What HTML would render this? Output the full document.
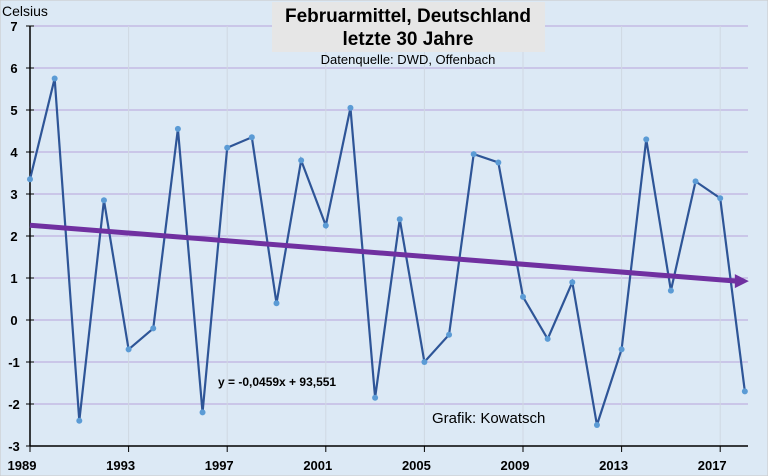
<!DOCTYPE html>
<html><head><meta charset="utf-8"><style>
body{margin:0;background:#dce9f5;}
svg{display:block;font-family:"Liberation Sans",sans-serif;}
</style></head><body>
<svg width="768" height="476">
<rect x="0" y="0" width="768" height="476" fill="#dce9f5" stroke="#c8c8c8"/>
<g id="grid"></g>
<g id="axes"></g>
<g id="series"></g>
<rect x="272" y="2" width="273" height="50" fill="#e6e6e6"/>
<text x="408" y="22" text-anchor="middle" font-size="19" font-weight="bold">Februarmittel, Deutschland</text>
<text x="408" y="45" text-anchor="middle" font-size="19" font-weight="bold">letzte 30 Jahre</text>
<text x="408" y="64" text-anchor="middle" font-size="13">Datenquelle: DWD, Offenbach</text>
<text x="2" y="16" font-size="14">Celsius</text>
<text x="218" y="386" font-size="12" font-weight="bold">y = -0,0459x + 93,551</text>
<text x="432" y="423" font-size="15">Grafik: Kowatsch</text>
<script>
const years=[1989,1990,1991,1992,1993,1994,1995,1996,1997,1998,1999,2000,2001,2002,2003,2004,2005,2006,2007,2008,2009,2010,2011,2012,2013,2014,2015,2016,2017,2018];
const temps=[3.35,5.75,-2.4,2.85,-0.7,-0.2,4.55,-2.2,4.1,4.35,0.4,3.8,2.25,5.05,-1.85,2.4,-1.0,-0.35,3.95,3.75,0.55,-0.45,0.9,-2.5,-0.7,4.3,0.7,3.3,2.9,-1.7];
const yTicks=[-3,-2,-1,0,1,2,3,4,5,6,7];
const xTickYears=[1989,1993,1997,2001,2005,2009,2013,2017];
const trendSlope=-0.0459, trendIntercept=93.551;
const NS="http://www.w3.org/2000/svg";
const X=yr=>30+24.65*(yr-1989);
const Y=v=>446-(v+3)*42;
function mk(tag,attrs,parent){const e=document.createElementNS(NS,tag);for(const k in attrs)e.setAttribute(k,attrs[k]);document.getElementById(parent).appendChild(e);return e;}
yTicks.forEach(t=>{
 if(t>-3){const g=mk('line',{x1:30,x2:748,y1:Y(t),y2:Y(t),stroke:'#b9a3dc','stroke-width':1},'grid');
 
 }
 const tk=mk('line',{x1:26,x2:34,y1:Y(t),y2:Y(t),stroke:'#000'},'axes');
 
 
 const tx=mk('text',{x:14,y:Y(t)+5,'text-anchor':'middle','font-size':13,'font-weight':'bold'},'axes');tx.textContent=t;
 
 
});
xTickYears.forEach(yr=>{
 if(yr>1989){const g=mk('line',{x1:X(yr),x2:X(yr),y1:Y(7),y2:Y(-3),stroke:'#cfd8e2'},'grid');
 
 }
 const tk=mk('line',{x1:X(yr),x2:X(yr),y1:446,y2:452,stroke:'#000'},'axes');
 
 
 const tx=mk('text',{x:X(yr)-8,y:470,'text-anchor':'middle','font-size':13,'font-weight':'bold'},'axes');tx.textContent=yr;
 
 
});
const ya=mk('line',{x1:30,x2:30,y1:Y(7),y2:446,stroke:'#000','stroke-width':1.5},'axes');


const xa=mk('line',{x1:30,x2:748,y1:446,y2:446,stroke:'#000','stroke-width':1.5},'axes');


const pl=mk('polyline',{points:years.map((y,i)=>X(y)+','+Y(temps[i])).join(' '),fill:'none',stroke:'#2e5597','stroke-width':2.2},'series');


years.forEach((y,i)=>{const c=mk('circle',{cx:X(y),cy:Y(temps[i]),r:3,fill:'#5b9bd5'},'series');
 
 });
const y0=years[0],y1=years[years.length-1];
const tl=mk('line',{x1:X(y0),y1:Y(trendSlope*y0+trendIntercept),x2:X(y1)-8,y2:Y(trendSlope*y1+trendIntercept),stroke:'#7030a0','stroke-width':5},'series');


const ex=X(y1)+4,ey=Y(trendSlope*y1+trendIntercept);
const ar=mk('polygon',{points:`${ex},${ey} ${ex-14},${ey-7} ${ex-14},${ey+7}`,fill:'#7030a0'},'series');


</script>
</svg>
</body></html>
